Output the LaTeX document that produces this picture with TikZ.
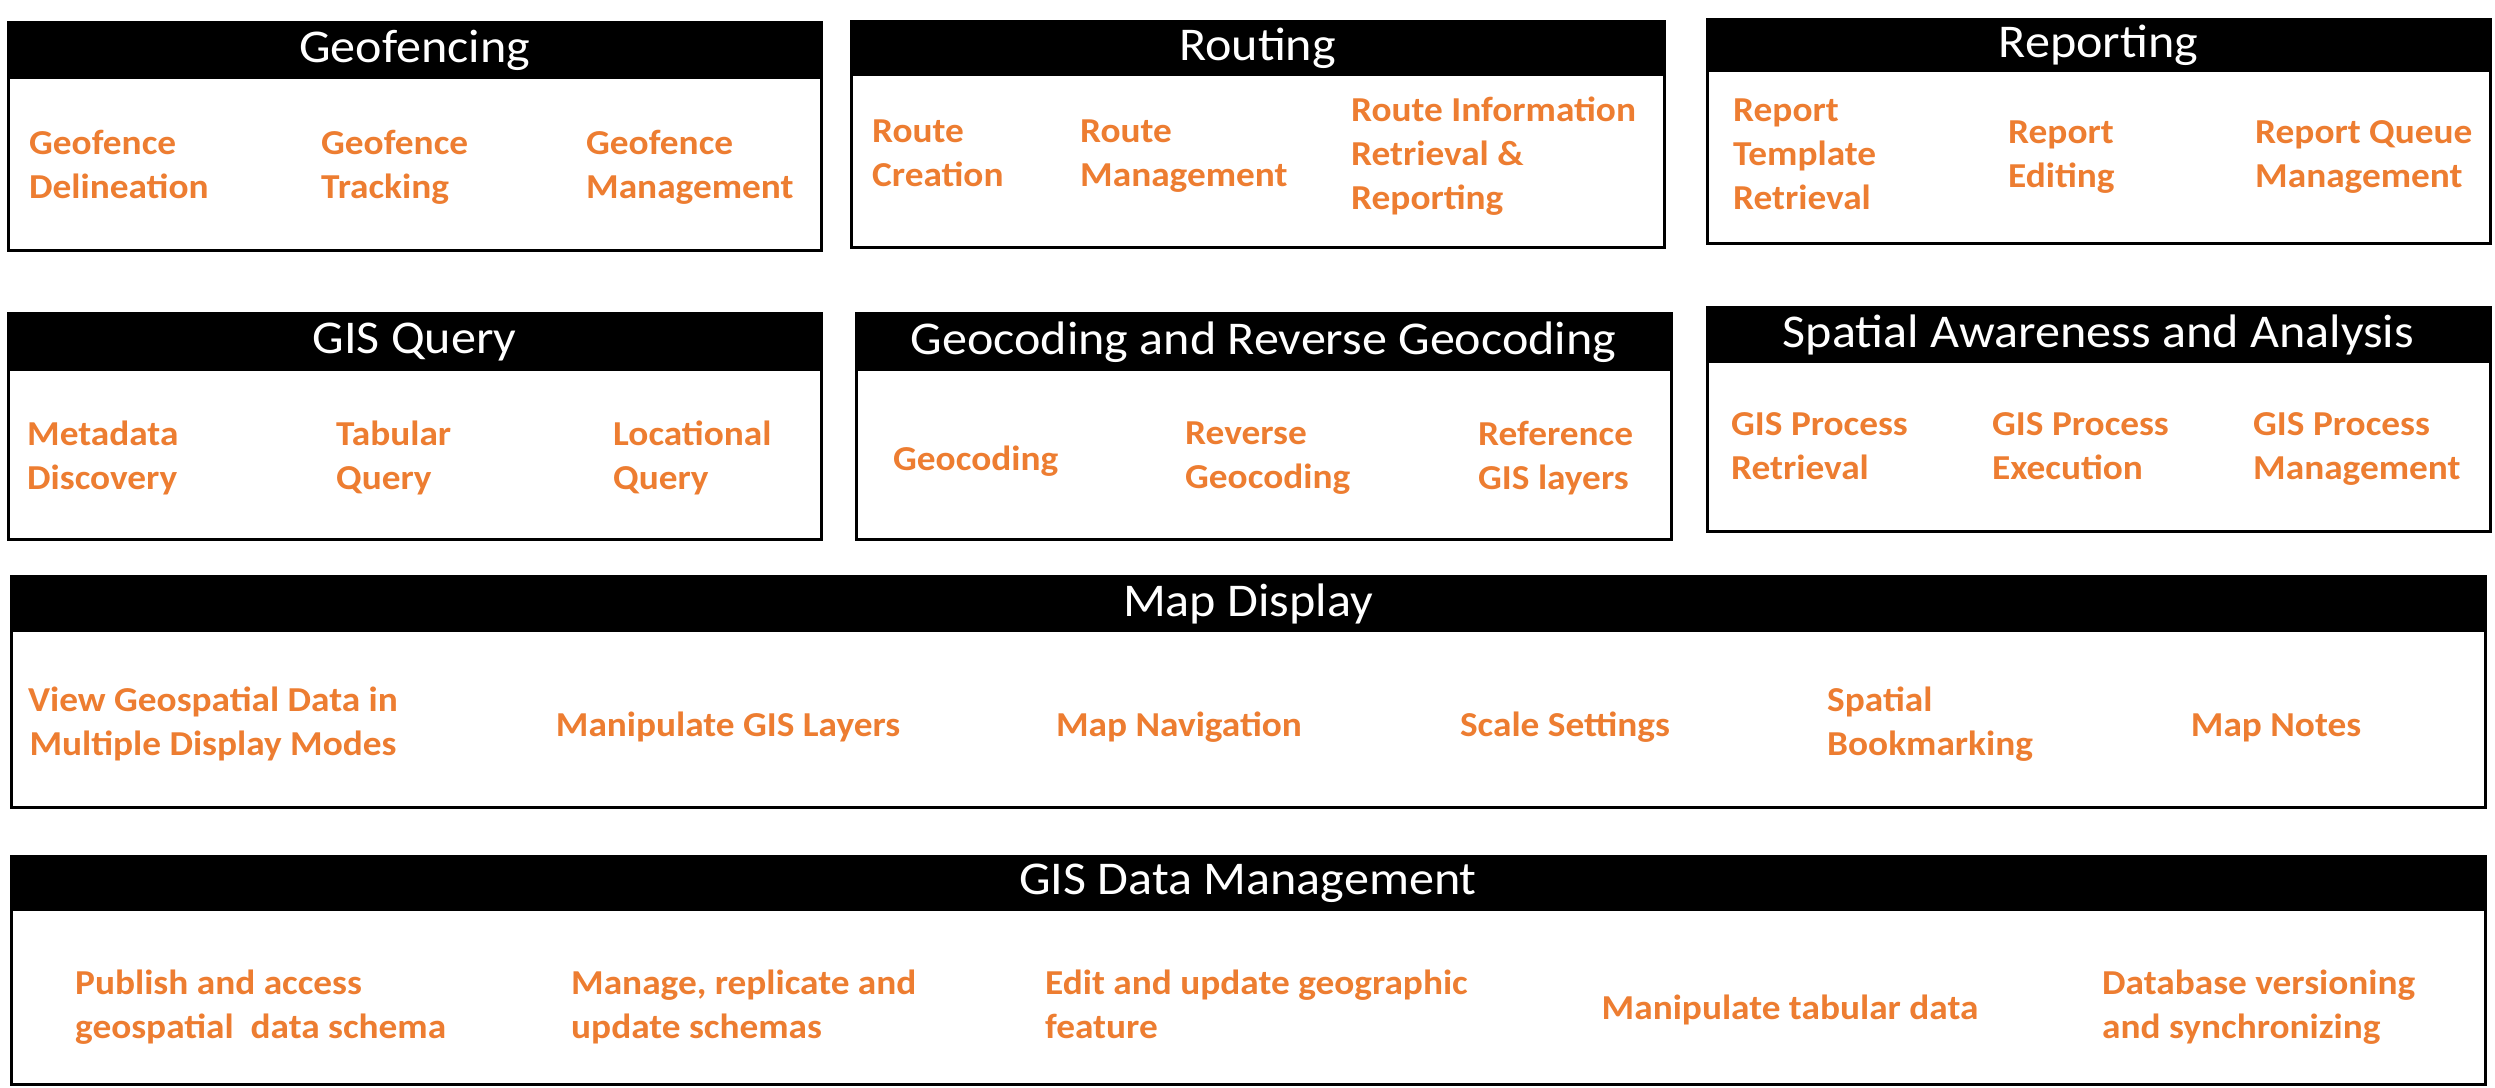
\documentclass[tikz,border=0pt]{standalone}
\usepackage{fontspec}
\setmainfont{Carlito}[FakeStretch=1.066]
\definecolor{itemorange}{RGB}{237,125,49}
\begin{document}
\begin{tikzpicture}[x=1pt,y=-1pt,
  frame/.style={draw=black,line width=3pt},
  headbar/.style={fill=black},
  title/.style={text=white,font=\fontsize{47}{56}\selectfont,inner sep=0pt},
  item/.style={text=itemorange,font=\bfseries\fontsize{35}{44}\selectfont,align=left,anchor=west,inner sep=0pt,
    execute at begin node=\strut, execute at end node=\strut, yshift=-7pt},
  citem/.style={item,align=center,anchor=center},
]
\useasboundingbox[fill=white] (0,0) rectangle (2495,1087);

% ---- Geofencing
\fill[headbar] (8,22) rectangle (821,79);
\draw[frame] (8,22) rectangle (821,250);
\node[title] (geofencing) at (414.5,50) {Geofencing};
\node[item] (gf1) at (29,164) {Geofence\\Delineation};
\node[item] (gf2) at (321,164) {Geofence\\Tracking};
\node[item] (gf3) at (586,164) {Geofence\\Management};

% ---- Routing
\fill[headbar] (851,21) rectangle (1664,76);
\draw[frame] (851,21) rectangle (1664,247);
\node[title] (routing) at (1257.5,48) {Routing};
\node[item] (rt1) at (872,153) {Route\\Creation};
\node[item] (rt2) at (1080,153) {Route\\Management};
\node[item] (rt3) at (1351,153) {Route Information\\Retrieval \&\\Reporting};

% ---- Reporting
\fill[headbar] (1707,19) rectangle (2490,72);
\draw[frame] (1707,19) rectangle (2490,243);
\node[title] (reporting) at (2098.5,45) {Reporting};
\node[item] (rp1) at (1733,154) {Report\\Template\\Retrieval};
\node[item] (rp2) at (2008,154) {Report\\Editing};
\node[item] (rp3) at (2255,154) {Report Queue\\Management};

% ---- GIS Query
\fill[headbar] (8,313) rectangle (821,371);
\draw[frame] (8,313) rectangle (821,539);
\node[title] (gisquery) at (414.5,342) {GIS Query};
\node[item] (gq1) at (27,455) {Metadata\\Discovery};
\node[item] (gq2) at (336,455) {Tabular\\Query};
\node[item] (gq3) at (613,455) {Locational\\Query};

% ---- Geocoding and Reverse Geocoding
\fill[headbar] (856,313) rectangle (1671,371);
\draw[frame] (856,313) rectangle (1671,539);
\node[title] (geocoding) at (1263.5,342) {Geocoding and Reverse Geocoding};
\node[item] (gc1) at (893,455) {Geocoding};
\node[item] (gc2) at (1185,455) {Reverse\\Geocoding};
\node[item] (gc3) at (1478,455) {Reference\\GIS layers};

% ---- Spatial Awareness and Analysis
\fill[headbar] (1707,307) rectangle (2490,363);
\draw[frame] (1707,307) rectangle (2490,531);
\node[title] (spatial) at (2098.5,335) {Spatial Awareness and Analysis};
\node[item] (sa1) at (1731,446) {GIS Process\\Retrieval};
\node[item] (sa2) at (1992,446) {GIS Process\\Execution};
\node[item] (sa3) at (2253,446) {GIS Process\\Management};

% ---- Map Display
\fill[headbar] (11,576) rectangle (2485,632);
\draw[frame] (11,576) rectangle (2485,807);
\node[title] (mapdisplay) at (1248,604) {Map Display};
\node[citem] (md1) at (213,721) {View Geospatial Data in\\Multiple Display Modes};
\node[citem] (md2) at (728,721) {Manipulate GIS Layers};
\node[citem] (md3) at (1179,721) {Map Navigation};
\node[citem] (md4) at (1565,721) {Scale Settings};
\node[item] (md5) at (1827,721) {Spatial\\Bookmarking};
\node[citem] (md6) at (2276,721) {Map Notes};

% ---- GIS Data Management
\fill[headbar] (11,856) rectangle (2485,911);
\draw[frame] (11,856) rectangle (2485,1084);
\node[title] (gisdata) at (1248,883) {GIS Data Management};
\node[item] (dm1) at (75,1004) {Publish and access\\geospatial\ \ data schema};
\node[item] (dm2) at (571,1004) {Manage, replicate and\\update schemas};
\node[item] (dm3) at (1045,1004) {Edit and update geographic\\feature};
\node[citem] (dm4) at (1790,1004) {Manipulate tabular data};
\node[item] (dm5) at (2102,1004) {Database versioning\\and synchronizing};
\end{tikzpicture}
\end{document}
